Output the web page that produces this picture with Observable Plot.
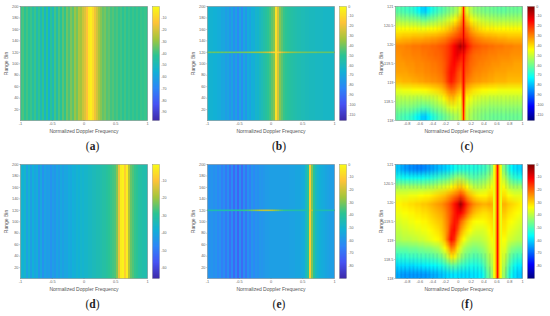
<!DOCTYPE html>
<html><head><meta charset="utf-8">
<script src="https://cdn.jsdelivr.net/npm/d3@7"></script>
<script src="https://cdn.jsdelivr.net/npm/@observablehq/plot@0.6"></script>
<style>
html,body{margin:0;padding:0;background:#fff;width:550px;height:316px;overflow:hidden}
#root{position:relative;width:550px;height:316px}
#root svg{position:absolute;overflow:visible;background:transparent}
.tag{position:absolute;font:11.5px "Liberation Serif",serif;color:#222;transform:translate(-50%,-50%)}
</style></head><body><div id="root"></div>
<script>
const parula=["#3e2aa8","#4753f4","#2d87f7","#12b1d6","#2bc493","#a4c53c","#fec338","#f9fb15"];
const jet=["#00007f","#0000ff","#00ffff","#ffff00","#ff0000","#7f0000"];
const jetStops=[0,.125,.375,.625,.875,1];
const jetFn=t=>{let i=1;while(i<jetStops.length-1&&t>jetStops[i])i++;return d3.interpolateRgb(jet[i-1],jet[i])((t-jetStops[i-1])/(jetStops[i]-jetStops[i-1]));};

const ticks1=[-1,-.5,0,.5,1];
const ticks2=[-.8,-.6,-.4,-.2,0,.2,.4,.6,.8,1];
const rangeTicks=[20,40,60,80,100,120,140,160,180,200];
const zoomTicks=[118,118.5,119,119.5,120,120.5,121];
const cb97=[-10,-20,-30,-40,-50,-60,-70,-80,-90];
const cb116=[0,-10,-20,-30,-40,-50,-60,-70,-80,-90,-100,-110];
const cb66=[-10,-20,-30,-40,-50,-60];
const cb90=[0,-10,-20,-30,-40,-50,-60,-70,-80];

const aCols=[-40,-38,-42,-39,-43,-40,-45,-40,-47,-41,-49,-41,-52,-42,-54,-42,-49,-39,-46,-38,-43,-36,-41,-34,-38,-32,-36,-29,-33,-26,-28,-22,-19,-14,-5,-3,-8,-16,-21,-27,-31,-35,-33,-37,-35,-39,-37,-40,-38,-41,-39,-42,-39,-42,-40,-42,-40,-42,-40,-42,-40,-41,-40,-41];
const bCols=[-64,-65,-65,-66,-66,-68,-68,-71,-70,-74,-71,-77,-72,-80,-72,-82,-71,-80,-70,-77,-68,-72,-66,-68,-63,-64,-60,-58,-55,-53,-50,-47,-42,-38,-8,-24,-38,-43,-48,-50,-52,-53,-54,-55,-56,-57,-57,-58,-58,-59,-59,-60,-60,-60,-61,-61,-61,-61,-62,-62,-62,-62,-62,-62];
const bLine=[-42,-41,-42,-41,-42,-41,-42,-41,-42,-41,-42,-41,-42,-41,-42,-41,-41,-40,-40,-39,-39,-38,-37,-36,-36,-35,-34,-33,-31,-29,-27,-23,-18,-14,-8,-12,-18,-24,-28,-31,-33,-35,-36,-37,-38,-39,-39,-40,-40,-40,-41,-41,-41,-41,-41,-42,-42,-42,-42,-42,-42,-42,-42,-42];
const dCols=[-36,-38,-36,-41,-37,-42,-38,-41,-39,-44,-40,-45,-41,-43,-42,-45,-42,-44,-41,-43,-40,-42,-40,-41,-39,-40,-38,-39,-37,-38,-36,-37,-36,-36,-35,-35,-34,-34,-33,-33,-32,-31,-31,-30,-29,-28,-27,-26,-22,-12,-3,-2,-8,-3,-18,-24,-26,-28,-29,-31,-31,-32,-32,-33];
const eCols=[-60,-61,-60,-62,-60,-64,-61,-66,-62,-68,-62,-70,-63,-72,-63,-73,-62,-71,-62,-69,-61,-66,-60,-64,-60,-62,-59,-60,-59,-58,-58,-57,-57,-57,-57,-57,-57,-57,-57,-57,-57,-56,-56,-56,-55,-55,-55,-54,-53,-47,-40,-11,-30,-40,-47,-50,-52,-53,-54,-55,-56,-57,-57,-58];
const eLine=[-44,-44,-44,-44,-44,-44,-44,-44,-43,-43,-43,-43,-42,-42,-42,-41,-40,-39,-38,-37,-36,-34,-32,-30,-28,-26,-24,-23,-22,-22,-22,-23,-24,-26,-29,-31,-34,-36,-38,-39,-40,-41,-42,-42,-43,-43,-43,-43,-43,-43,-40,-14,-24,-40,-43,-44,-44,-44,-44,-44,-44,-44,-44,-44];

const cRows=[
[-62,-63,-64,-65,-66,-67,-70,-73,-77,-78,-72,-69,-67,-65,-63,-61,-59,-57,-55,-52,-46,-48,-46,-51,-54,-56,-57,-58,-59,-59,-60,-60,-61,-61,-61,-60,-60,-60,-60,-60],
[-54,-54,-55,-55,-56,-56,-57,-58,-60,-60,-58,-57,-56,-54,-53,-51,-49,-47,-44,-40,-34,-36,-36,-42,-45,-47,-49,-50,-51,-52,-52,-53,-53,-53,-53,-53,-53,-53,-53,-53],
[-44,-44,-44,-44,-44,-44,-44,-45,-45,-45,-44,-44,-43,-42,-41,-40,-38,-36,-33,-30,-26,-27,-28,-33,-36,-38,-40,-41,-42,-42,-42,-43,-43,-43,-43,-43,-43,-43,-43,-43],
[-37,-37,-36,-36,-36,-35,-35,-35,-35,-34,-34,-33,-33,-32,-31,-30,-28,-26,-24,-22,-20,-21,-22,-26,-28,-30,-31,-32,-33,-33,-34,-34,-35,-35,-35,-36,-36,-36,-36,-36],
[-30,-30,-30,-29,-29,-28,-28,-28,-27,-27,-27,-26,-26,-25,-24,-23,-21,-18,-14,-10,-5,-9,-16,-20,-23,-24,-25,-26,-26,-27,-27,-28,-28,-28,-29,-29,-29,-30,-30,-30],
[-31,-31,-30,-30,-30,-29,-29,-29,-28,-28,-27,-27,-26,-26,-25,-23,-21,-18,-14,-12,-16,-18,-21,-24,-26,-27,-27,-28,-28,-29,-29,-29,-30,-30,-30,-30,-31,-31,-31,-31],
[-32,-32,-32,-31,-31,-31,-30,-30,-30,-29,-29,-28,-28,-27,-26,-24,-21,-17,-15,-18,-21,-22,-23,-26,-27,-28,-29,-29,-30,-30,-31,-31,-31,-32,-32,-32,-32,-33,-33,-33],
[-33,-33,-33,-33,-32,-32,-31,-31,-31,-30,-30,-29,-29,-28,-27,-24,-20,-16,-17,-22,-25,-25,-25,-27,-29,-30,-30,-31,-31,-32,-32,-33,-33,-33,-33,-34,-34,-34,-34,-34],
[-36,-36,-35,-35,-35,-34,-34,-33,-33,-32,-32,-31,-31,-30,-29,-26,-21,-17,-20,-24,-27,-27,-28,-30,-31,-32,-32,-33,-33,-34,-34,-35,-35,-35,-35,-36,-36,-36,-36,-36],
[-46,-46,-45,-45,-45,-44,-44,-44,-43,-43,-42,-41,-40,-39,-37,-34,-30,-27,-28,-32,-35,-35,-36,-38,-40,-41,-42,-43,-43,-44,-44,-44,-45,-45,-45,-45,-45,-45,-45,-45],
[-52,-52,-52,-52,-52,-52,-53,-53,-53,-52,-52,-51,-50,-48,-46,-43,-39,-37,-37,-41,-43,-43,-43,-45,-47,-48,-49,-50,-50,-51,-51,-51,-51,-51,-51,-51,-51,-51,-51,-51],
[-57,-57,-58,-58,-58,-59,-60,-61,-62,-62,-61,-59,-57,-56,-54,-52,-49,-47,-46,-47,-47,-47,-48,-50,-52,-53,-54,-55,-55,-56,-56,-56,-56,-56,-56,-56,-56,-56,-56,-56],
[-62,-63,-64,-65,-66,-68,-71,-74,-78,-78,-73,-69,-67,-64,-62,-60,-58,-56,-54,-53,-50,-51,-50,-53,-55,-56,-57,-58,-59,-59,-60,-60,-60,-60,-60,-60,-60,-60,-60,-60]
];
const cStreak=[
-36,-17,-36,
-30,-14,-30,
-24,-13,-24,
-20,-12,-20,
-10,-7,-10,
-17,-13,-17,
-20,-14,-20,
-21,-14,-21,
-22,-15,-22,
-26,-16,-26,
-30,-16,-30,
-34,-16,-34,
-36,-17,-36];
const fRows=[
[-60,-62,-64,-65,-66,-66,-67,-67,-67,-66,-65,-64,-63,-62,-61,-60,-59,-57,-55,-54,-53,-53,-53,-53,-53,-53,-52,-51,-50,-47,-44,-44,-44,-44,-45,-52,-56,-58,-59,-60],
[-54,-54,-55,-55,-55,-55,-55,-55,-55,-54,-54,-53,-52,-51,-50,-49,-48,-46,-44,-42,-42,-43,-45,-47,-48,-48,-47,-46,-45,-42,-39,-39,-39,-39,-40,-46,-50,-52,-53,-54],
[-42,-42,-42,-42,-42,-42,-42,-42,-42,-42,-41,-41,-40,-39,-38,-37,-36,-34,-32,-30,-29,-31,-34,-37,-39,-40,-40,-39,-38,-36,-34,-34,-34,-34,-35,-39,-41,-42,-42,-42],
[-36,-36,-36,-36,-35,-35,-35,-34,-34,-33,-33,-32,-31,-30,-29,-28,-26,-24,-22,-20,-17,-20,-25,-28,-30,-32,-33,-33,-33,-31,-31,-31,-31,-31,-31,-34,-35,-36,-36,-36],
[-33,-33,-32,-32,-31,-31,-30,-30,-29,-29,-28,-27,-26,-25,-24,-22,-20,-17,-13,-9,-3,-10,-16,-20,-23,-25,-26,-27,-27,-26,-27,-27,-27,-27,-27,-29,-30,-31,-32,-33],
[-35,-35,-34,-34,-33,-33,-32,-32,-31,-31,-30,-29,-28,-27,-26,-24,-21,-18,-14,-11,-11,-15,-20,-24,-27,-29,-30,-31,-31,-30,-29,-29,-29,-29,-29,-31,-32,-33,-34,-35],
[-37,-37,-36,-36,-35,-35,-34,-34,-33,-33,-32,-31,-30,-29,-28,-25,-22,-17,-13,-14,-20,-24,-28,-31,-33,-34,-34,-34,-33,-32,-31,-31,-31,-31,-31,-33,-34,-35,-36,-37],
[-39,-39,-38,-38,-37,-37,-36,-36,-35,-35,-34,-33,-32,-31,-29,-26,-22,-14,-12,-18,-25,-29,-32,-34,-36,-37,-37,-37,-36,-34,-32,-32,-32,-32,-32,-35,-36,-37,-38,-39],
[-41,-41,-40,-40,-40,-39,-39,-38,-38,-37,-36,-35,-34,-33,-31,-27,-20,-12,-15,-24,-30,-34,-37,-39,-40,-40,-40,-39,-38,-36,-34,-34,-34,-34,-34,-37,-38,-39,-40,-40],
[-47,-47,-47,-47,-46,-46,-46,-45,-45,-44,-44,-43,-42,-41,-38,-34,-29,-22,-24,-31,-37,-41,-43,-44,-45,-45,-44,-43,-41,-38,-36,-36,-36,-36,-36,-41,-44,-45,-46,-46],
[-52,-52,-52,-52,-51,-51,-51,-50,-50,-50,-49,-49,-48,-47,-45,-42,-38,-32,-33,-38,-42,-45,-47,-48,-49,-49,-48,-46,-44,-40,-38,-38,-38,-38,-38,-44,-48,-50,-51,-51],
[-59,-59,-59,-59,-59,-59,-58,-58,-58,-57,-57,-56,-56,-55,-54,-52,-50,-48,-48,-49,-51,-52,-53,-54,-54,-54,-53,-51,-47,-43,-40,-40,-40,-40,-41,-48,-52,-55,-57,-58],
[-63,-64,-65,-65,-65,-65,-65,-65,-65,-65,-64,-63,-63,-62,-61,-60,-59,-58,-58,-58,-59,-59,-59,-59,-58,-58,-57,-55,-50,-46,-42,-42,-42,-42,-43,-51,-55,-58,-60,-61]
];
const fStreak=[-36,-33,-24,-12,-24,-33,-36];
const combFreq=[-.95,-.89,-.83,-.76,-.7,-.64,-.58,-.51,-.45,-.39,-.33,-.26,-.2,-.14,-.08,-.01,.05,.11,.17,.24,.3,.36,.42,.49,.55,.61,.67,.74,.8,.86,.92,.99];

const root=document.getElementById("root");
const TXT="#666", FONT="Liberation Sans, Arial, sans-serif";
const fmt=d=>String(d);
const W=190,H=158;
const colorOf=(dom,fn)=>({type:"linear",domain:dom,interpolate:fn});
const parulaFn=d3.piecewise(d3.interpolateRgb,parula);

function place(svg,x,y){svg.style.left=x+"px";svg.style.top=y+"px";root.appendChild(svg);}

function panel(ox,oy,xDom,yDom,xTicks,yTicks,dom,fn,cbTicks,raster){
  place(Plot.plot({
    width:W,height:H,marginLeft:20,marginRight:43,marginTop:6,marginBottom:38,
    style:{background:"transparent"},
    x:{domain:xDom},y:{domain:yDom},color:colorOf(dom,fn),
    marks:[
      ...raster,
      Plot.frame({stroke:"#666",strokeWidth:.4}),
      Plot.axisX({ticks:xTicks,tickFormat:fmt,tickSize:1,tickPadding:1,fontSize:3.9,fill:TXT,stroke:"#666",strokeWidth:.3,fontFamily:FONT,label:null}),
      Plot.axisY({ticks:yTicks,tickFormat:fmt,tickSize:1,tickPadding:1,fontSize:3.9,fill:TXT,stroke:"#666",strokeWidth:.3,fontFamily:FONT,label:null}),
      Plot.text(["Normalized Doppler Frequency"],{frameAnchor:"bottom",dy:12.5,fontSize:5,fill:"#555",fontFamily:FONT}),
      Plot.text(["Range Bin"],{frameAnchor:"left",dx:-14,rotate:-90,textAnchor:"middle",fontSize:5,fill:"#555",fontFamily:FONT})
    ]
  }),ox,oy);
  place(Plot.plot({
    width:32,height:H,marginLeft:0,marginRight:25,marginTop:6,marginBottom:38,
    style:{background:"transparent"},
    x:{domain:[0,1],axis:null},y:{domain:dom},color:colorOf(dom,fn),
    marks:[
      Plot.raster({fill:(x,y)=>y,x1:0,x2:1,y1:dom[0],y2:dom[1],width:1,height:200}),
      Plot.frame({stroke:"#666",strokeWidth:.3}),
      Plot.axisY({anchor:"right",ticks:cbTicks,tickFormat:fmt,tickSize:0,tickPadding:1.8,fontSize:3.6,fill:TXT,fontFamily:FONT,label:null})
    ]
  }),ox+152,oy);
}

const xFull=[-1,1],yFull=[1,200],xZoom=[-.98,1],yZoom=[118,121];
const cols=(v)=>Plot.raster(v,{width:64,height:1,x1:-1,x2:1,y1:1,y2:200,imageRendering:"pixelated"});
const line=(v)=>Plot.raster(v,{width:64,height:1,x1:-1,x2:1,y1:118.6,y2:121.4,imageRendering:"pixelated"});
const grid=(r)=>Plot.raster(r.flat(),{width:40,height:13,x1:-.98,x2:1,y1:121,y2:118,imageRendering:"auto"});
const comb=(a,b,o)=>[
  Plot.ruleX(combFreq,{y1:120.7,y2:121,stroke:"#0030b0",strokeWidth:1.8,strokeOpacity:o}),
  Plot.ruleX(combFreq,{y1:120.35,y2:120.7,stroke:"#0030b0",strokeWidth:1.8,strokeOpacity:o*.55}),
  Plot.ruleX(combFreq,{y1:118,y2:118.3,stroke:"#0030b0",strokeWidth:1.8,strokeOpacity:o}),
  Plot.ruleX(combFreq,{y1:118.3,y2:118.65,stroke:"#0030b0",strokeWidth:1.8,strokeOpacity:o*.55})
];

panel(0,0,xFull,yFull,ticks1,rangeTicks,[-97,0],parulaFn,cb97,[cols(aCols)]);
panel(187,0,xFull,yFull,ticks1,rangeTicks,[-116,0],parulaFn,cb116,[cols(bCols),line(bLine)]);
panel(375,0,xZoom,yZoom,ticks2,zoomTicks,[-116,0],jetFn,cb116,[grid(cRows),...comb(0,0,.08),
  Plot.raster(cStreak,{width:3,height:13,x1:.05,x2:.11,y1:121,y2:118,imageRendering:"auto"})]);
panel(0,158,xFull,yFull,ticks1,rangeTicks,[-66,-.7],parulaFn,cb66,[cols(dCols)]);
panel(187,158,xFull,yFull,ticks1,rangeTicks,[-90,0],parulaFn,cb90,[cols(eCols),line(eLine)]);
panel(375,158,xZoom,yZoom,ticks2,zoomTicks,[-90,0],jetFn,cb90,[grid(fRows),...comb(0,0,.14),
  Plot.raster(fStreak,{width:7,height:1,x1:.54,x2:.68,y1:118,y2:121,imageRendering:"auto"})]);

const tags=[["a",92.5,146],["b",279,146],["c",467,146],["d",92.5,304],["e",279,304],["f",467,304]];
for(const [t,x,y] of tags){
  const d=document.createElement("div");d.className="tag";d.style.left=x+"px";d.style.top=y+"px";
  d.innerHTML="(<b>"+t+"</b>)";root.appendChild(d);
}
</script></body></html>
